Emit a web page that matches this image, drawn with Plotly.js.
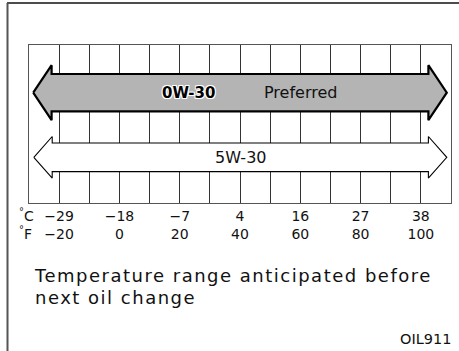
<!DOCTYPE html>
<html>
<head>
<meta charset="utf-8">
<script src="https://cdn.plot.ly/plotly-3.0.1.min.js"></script>
<style>
  html, body { margin: 0; padding: 0; background: #fff; }
  #chart { width: 459px; height: 351px; }
</style>
</head>
<body>
<div id="chart"></div>
<script>
// ---- data ----
const tempF = [-20, 0, 20, 40, 60, 80, 100];
const tempC = [-29, -18, -7, 4, 16, 27, 38];
const oilGrades = ['0W-30', '5W-30'];
const oilNotes = ['Preferred', ''];
const oilLowF = [-28.6, -28.4];
const oilHighF = [108.6, 108.6];
const captionLines = ['Temperature range anticipated before', 'next oil change'];
const figureCode = 'OIL911';

// ---- styles / geometry ----
const W = 459, H = 351;
const FONT = 'DejaVu Sans, Arial, sans-serif';
const rowY = [1, 0];               // vertical row of each arrow
const shaftHalf = [0.289, 0.222];  // in y-axis units
const headHalf = [0.426, 0.322];
const headLen = 6.1;               // in °F
const fills = ['#b4b4b4', '#ffffff'];
const lineW = [2.2, 1.1];
const gradeLabelF = [23, 40];
const noteLabelF = 60;

const px2x = p => p / W;
const px2y = p => 1 - p / H;

const traces = oilGrades.map((g, i) => {
  const y = rowY[i], s = shaftHalf[i], hh = headHalf[i];
  const xl = oilLowF[i], xr = oilHighF[i];
  const xs = [xl, xl + headLen, xl + headLen, xr - headLen, xr - headLen, xr, xr - headLen, xr - headLen, xl + headLen, xl + headLen, xl];
  const ys = [y, y + hh, y + s, y + s, y + hh, y, y - hh, y - s, y - s, y - hh, y];
  return {
    type: 'scatter', mode: 'lines', x: xs, y: ys, fill: 'toself',
    fillcolor: fills[i], line: {color: '#000', width: lineW[i]},
    hoverinfo: 'skip', showlegend: false
  };
});

const ticktext = tempF.map((f, i) => {
  const c = tempC[i] < 0 ? '\u2212' + Math.abs(tempC[i]) : String(tempC[i]);
  const ff = f < 0 ? '\u2212' + Math.abs(f) : String(f);
  return c + '<br>' + ff;
});

const annotations = [
  {xref: 'x', yref: 'y', x: gradeLabelF[0], y: rowY[0], text: '<b>' + oilGrades[0] + '</b>',
   showarrow: false, xanchor: 'center', yanchor: 'middle',
   font: {family: FONT, size: 15, color: '#000', shadow: '-1px -1px 0 #fff, 1px -1px 0 #fff, -1px 1px 0 #fff, 1px 1px 0 #fff'}},
  {xref: 'x', yref: 'y', x: noteLabelF, y: rowY[0], text: oilNotes[0],
   showarrow: false, xanchor: 'center', yanchor: 'middle',
   font: {family: FONT, size: 16, color: '#111'}},
  {xref: 'x', yref: 'y', x: gradeLabelF[1], y: rowY[1], text: oilGrades[1],
   showarrow: false, xanchor: 'center', yanchor: 'middle',
   font: {family: FONT, size: 16, color: '#111'}},
  {xref: 'paper', yref: 'paper', x: px2x(36), y: px2y(224), text: '<sup>\u00b0</sup>C<br><sup>\u00b0</sup>F',
   showarrow: false, xanchor: 'right', yanchor: 'middle', align: 'left',
   font: {family: FONT, size: 14, color: '#111'}},
  {xref: 'paper', yref: 'paper', x: px2x(33), y: px2y(275), text: captionLines[0],
   showarrow: false, xanchor: 'left', yanchor: 'middle',
   font: {family: FONT, size: 18, color: '#111'}},
  {xref: 'paper', yref: 'paper', x: px2x(33), y: px2y(297), text: captionLines[1],
   showarrow: false, xanchor: 'left', yanchor: 'middle',
   font: {family: FONT, size: 18, color: '#111'}},
  {xref: 'paper', yref: 'paper', x: px2x(453), y: px2y(339), text: figureCode,
   showarrow: false, xanchor: 'right', yanchor: 'middle',
   font: {family: FONT, size: 14.5, color: '#111'}}
];

const shapes = [
  {type: 'line', xref: 'paper', yref: 'paper', x0: px2x(7), x1: px2x(459), y0: px2y(3), y1: px2y(3), line: {color: '#111', width: 1.6}},
  {type: 'line', xref: 'paper', yref: 'paper', x0: px2x(7.5), x1: px2x(7.5), y0: px2y(3), y1: px2y(351), line: {color: '#555', width: 2}}
];

const layout = {
  width: W, height: H,
  margin: {l: 0, r: 0, t: 0, b: 0},
  paper_bgcolor: '#fff', plot_bgcolor: '#fff',
  font: {family: FONT, color: '#111'},
  xaxis: {
    domain: [29 / W, 451 / W], range: [-30, 110], fixedrange: true,
    tickmode: 'array', tickvals: tempF, ticktext: ticktext,
    tickfont: {family: FONT, size: 14, color: '#111'},
    ticks: '', showgrid: true, gridcolor: '#333', gridwidth: 1,
    minor: {dtick: 10, tick0: 0, showgrid: true, gridcolor: '#333', gridwidth: 1},
    zeroline: false, showline: true, mirror: true, linecolor: '#555', linewidth: 1,
    automargin: false
  },
  yaxis: {
    domain: [1 - 203 / H, 1 - 45 / H], range: [-0.707, 1.738], fixedrange: true,
    showticklabels: false, ticks: '', showgrid: false, zeroline: false,
    showline: true, mirror: true, linecolor: '#555', linewidth: 1, automargin: false
  },
  annotations: annotations,
  shapes: shapes,
  showlegend: false
};

Plotly.newPlot('chart', traces, layout, {staticPlot: true, displayModeBar: false}).then(gd => {
  // widen the caption lines slightly (as in the reference artwork), keeping the left edge fixed
  gd.querySelectorAll('.annotation-text').forEach(t => {
    if (!captionLines.includes(t.textContent)) return;
    const box = t.getBBox();
    t.style.letterSpacing = '1.5px';
    t.setAttribute('text-anchor', 'start');
    t.setAttribute('x', String(box.x));
  });
});
</script>
</body>
</html>
